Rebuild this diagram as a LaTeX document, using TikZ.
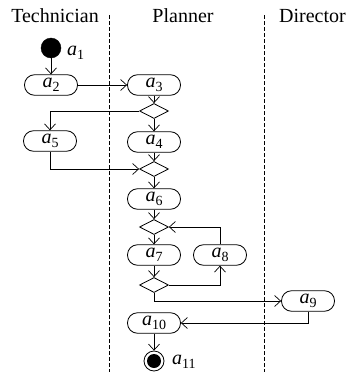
\documentclass[tikz,border=0pt]{standalone}
\usepackage{fontspec}
\setmainfont{Liberation Serif}
\usetikzlibrary{arrows.meta,shapes.geometric}
\newcommand{\alab}[1]{\textit{a}\raisebox{-0.45ex}{\fontsize{14pt}{14pt}\selectfont #1}}
\begin{document}
\begin{tikzpicture}[x=1pt,y=-1pt,
  big/.style={font=\fontsize{20pt}{20pt}\selectfont},
  act/.style={draw, rounded corners=10pt, minimum width=53pt, minimum height=20.5pt, inner sep=0pt, line width=0.8pt, big},
  dec/.style={draw, diamond, aspect=2, minimum width=29pt, minimum height=15pt, inner sep=0pt, line width=0.8pt},
  flow/.style={-{Straight Barb[length=6pt,width=11pt]}, line width=0.7pt},
  lane/.style={dash pattern=on 4pt off 2pt, line width=0.8pt}]
\useasboundingbox (0,0) rectangle (347,372);
% headers
\node[big, anchor=base] (h1) at (55,23) {Technician};
\node[big, anchor=base] (h2) at (183,23) {Planner};
\node[big, anchor=base west, inner sep=0pt] (h3) at (279,23) {Director};
% lanes
\coordinate (l1t) at (109,15); \coordinate (l1b) at (109,372);
\coordinate (l2t) at (264,15); \coordinate (l2b) at (264,372);
\draw[lane] (l1t) -- (l1b);
\draw[lane] (l2t) -- (l2b);
% nodes
\node[draw, circle, fill, minimum size=20pt, inner sep=0pt] (a1) at (51,48) {};
\node[big, anchor=west, inner sep=0pt] (t1) at (67,53) {\alab{1}};
\node[act] (a2) at (51,85) {\alab{2}};
\node[act] (a3) at (154,85) {\alab{3}};
\node[dec] (d1) at (154,111) {};
\node[act] (a5) at (50,141) {\alab{5}};
\node[act] (a4) at (154,142) {\alab{4}};
\node[dec] (d2) at (154,169) {};
\node[act] (a6) at (154,199) {\alab{6}};
\node[dec] (d3) at (154,227) {};
\node[act] (a7) at (154,255) {\alab{7}};
\node[act] (a8) at (220,255) {\alab{8}};
\node[dec] (d4) at (154,285) {};
\node[act] (a9) at (308,301) {\alab{9}};
\node[act] (a10) at (154,323) {\alab{10}};
\node[draw, circle, minimum size=20pt, inner sep=0pt, line width=0.8pt] (a11) at (154,361) {};
\fill (a11.center) circle (7pt);
\node[big, anchor=west, inner sep=0pt] (t11) at (172,362) {\alab{11}};
% flows
\draw[flow] (a1) -- (a2);
\draw[flow] (a2) -- (a3);
\draw[flow] (a3) -- (d1);
\draw[flow] (d1) -- (a4);
\draw[flow] (d1.west) -| (a5);
\draw[flow] (a4) -- (d2);
\draw[flow] (a5) |- (d2.west);
\draw[flow] (d2) -- (a6);
\draw[flow] (a6) -- (d3);
\draw[flow] (d3) -- (a7);
\draw[flow] (a8) |- (d3.east);
\draw[flow] (a7) -- (d4);
\draw[flow] (d4.east) -| (a8);
\draw[flow] (d4.south) |- (a9);
\draw[flow] (a9) |- (a10);
\draw[flow] (a10) -- (a11);
\end{tikzpicture}
\end{document}
